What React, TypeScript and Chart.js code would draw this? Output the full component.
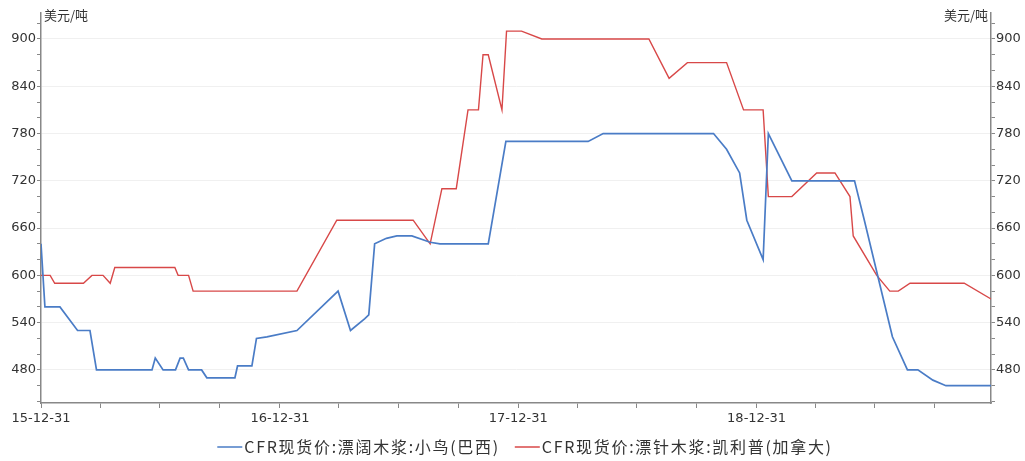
import React, { useEffect, useRef } from "react";
import { Chart, registerables } from "chart.js";

Chart.register(...registerables);

const BASE_DATE = "2015-12-31";
const END_DATE = "2019-12-25";

const hardwoodName = "CFR现货价:漂阔木浆:小鸟(巴西)";
const hardwoodDates = [
  "2015-12-31", "2016-01-06", "2016-01-29", "2016-02-25", "2016-03-15", "2016-03-25",
  "2016-06-18", "2016-06-23", "2016-07-05", "2016-07-24", "2016-07-31", "2016-08-05",
  "2016-08-13", "2016-09-02", "2016-09-10", "2016-10-23", "2016-10-27", "2016-11-18",
  "2016-11-25", "2016-12-11", "2017-01-26", "2017-03-30", "2017-04-18", "2017-05-10",
  "2017-05-16", "2017-05-25", "2017-06-12", "2017-06-28", "2017-07-21", "2017-08-18",
  "2017-09-02", "2017-11-15", "2017-12-12", "2018-04-17", "2018-05-10", "2018-10-26",
  "2018-11-15", "2018-12-05", "2018-12-16", "2019-01-10", "2019-01-18", "2019-02-23",
  "2019-05-30", "2019-06-14", "2019-07-27", "2019-08-19", "2019-09-04", "2019-09-27",
  "2019-10-17", "2019-12-25",
];
const hardwoodValues = [
  640, 560, 560, 530, 530, 480,
  480, 495, 480, 480, 495, 495,
  480, 480, 470, 470, 485, 485,
  520, 522, 530, 580, 530, 545,
  550, 640, 647, 650, 650, 642,
  640, 640, 770, 770, 780, 780,
  760, 730, 670, 620, 780, 720,
  720, 670, 522, 480, 480, 467,
  460, 460,
];

const softwoodName = "CFR现货价:漂针木浆:凯利普(加拿大)";
const softwoodDates = [
  "2015-12-31", "2016-01-14", "2016-01-21", "2016-03-05", "2016-03-18", "2016-04-04",
  "2016-04-15", "2016-04-22", "2016-07-23", "2016-07-28", "2016-08-13", "2016-08-20",
  "2017-01-26", "2017-03-28", "2017-07-23", "2017-08-18", "2017-09-05", "2017-09-27",
  "2017-10-15", "2017-10-31", "2017-11-07", "2017-11-15", "2017-12-06", "2017-12-13",
  "2018-01-05", "2018-02-05", "2018-07-19", "2018-08-19", "2018-09-16", "2018-11-15",
  "2018-12-11", "2019-01-10", "2019-01-18", "2019-02-23", "2019-04-02", "2019-04-30",
  "2019-05-23", "2019-05-28", "2019-07-03", "2019-07-23", "2019-08-05", "2019-08-23",
  "2019-11-14", "2019-12-25",
];
const softwoodValues = [
  600, 600, 590, 590, 600, 600,
  590, 610, 610, 600, 600, 580,
  580, 670, 670, 640, 710, 710,
  810, 810, 880, 880, 810, 910,
  910, 900, 900, 850, 870, 870,
  810, 810, 700, 700, 730, 730,
  700, 650, 600, 580, 580, 590,
  590, 570,
];

const xTickDates = [
  "2015-12-31", "2016-03-31", "2016-06-30", "2016-09-30", "2016-12-31",
  "2017-03-31", "2017-06-30", "2017-09-30", "2017-12-31",
  "2018-03-31", "2018-06-30", "2018-09-30", "2018-12-31",
  "2019-03-31", "2019-06-30", "2019-09-30",
];
const xLabelDates = ["2015-12-31", "2016-12-31", "2017-12-31", "2018-12-31"];

const yMinorTicks = [440, 460, 480, 500, 520, 540, 560, 580, 600, 620, 640, 660, 680, 700, 720, 740, 760, 780, 800, 820, 840, 860, 880, 900, 920];
const yLabelTicks = [480, 540, 600, 660, 720, 780, 840, 900];
const unitLabel = "美元/吨";

const BLUE = "#4a7cc6";
const RED = "#d84848";
const FONT = "'Noto Sans CJK SC', 'Noto Sans', sans-serif";
const NUM_FONT = "'DejaVu Sans', sans-serif";

const dayOf = (s: string) => Math.round((Date.parse(s) - Date.parse(BASE_DATE)) / 86400000);
const shortLabel = (s: string) => s.slice(2);

export default function App() {
  const ref = useRef<HTMLCanvasElement | null>(null);

  useEffect(() => {
    document.body.style.margin = "0";
    const canvas = ref.current;
    if (!canvas) return;

    const labelMap = new Map<number, string>();
    xLabelDates.forEach((d) => labelMap.set(dayOf(d), shortLabel(d)));

    const overlay = {
      id: "overlay",
      afterDraw(chart: any) {
        const { ctx, chartArea } = chart;
        ctx.save();
        ctx.fillStyle = "#333";
        ctx.font = `13px ${FONT}`;
        ctx.textBaseline = "middle";
        ctx.textAlign = "left";
        ctx.fillText(unitLabel, chartArea.left + 3, 15);
        ctx.textAlign = "right";
        ctx.fillText(unitLabel, chartArea.right - 3, 15);

        // legend
        const items = [
          { name: hardwoodName, color: BLUE },
          { name: softwoodName, color: RED },
        ];
        ctx.font = `16px ${FONT}`;
        (ctx as any).letterSpacing = "1.7px";
        const lineLen = 25;
        const gapLine = 2;
        const gapItem = 15;
        const widths = items.map((it) => lineLen + gapLine + ctx.measureText(it.name).width);
        const total = widths.reduce((a, b) => a + b, 0) + gapItem * (items.length - 1);
        let x = 525 - total / 2;
        const y = 447;
        items.forEach((it, i) => {
          ctx.strokeStyle = it.color;
          ctx.lineWidth = 1.5;
          ctx.beginPath();
          ctx.moveTo(x, y);
          ctx.lineTo(x + lineLen, y);
          ctx.stroke();
          ctx.fillStyle = "#333";
          ctx.textAlign = "left";
          ctx.fillText(it.name, x + lineLen + gapLine, y);
          x += widths[i] + gapItem;
        });
        ctx.restore();
      },
    };

    const yTicksBuild = (scale: any) => {
      scale.ticks = yMinorTicks.map((v) => ({ value: v }));
    };
    const yLabel = (v: any) => (yLabelTicks.includes(Number(v)) ? String(v) : "");

    const chart = new Chart(canvas, {
      type: "line",
      data: {
        datasets: [
          {
            label: hardwoodName,
            data: hardwoodDates.map((d, i) => ({ x: dayOf(d), y: hardwoodValues[i] })),
            borderColor: BLUE,
            backgroundColor: BLUE,
            borderWidth: 1.7,
            pointRadius: 0,
            tension: 0,
            yAxisID: "y",
          },
          {
            label: softwoodName,
            data: softwoodDates.map((d, i) => ({ x: dayOf(d), y: softwoodValues[i] })),
            borderColor: RED,
            backgroundColor: RED,
            borderWidth: 1.4,
            pointRadius: 0,
            tension: 0,
            yAxisID: "y",
          },
        ],
      },
      options: {
        animation: false,
        responsive: true,
        maintainAspectRatio: false,
        layout: { padding: { top: 13, left: 0, right: 0, bottom: 0 } },
        plugins: {
          legend: { display: false },
          tooltip: { enabled: false },
        },
        scales: {
          x: {
            type: "linear",
            min: 0,
            max: dayOf(END_DATE),
            afterBuildTicks: (scale: any) => {
              scale.ticks = xTickDates.map((d) => ({ value: dayOf(d) }));
            },
            afterFit: (scale: any) => {
              scale.height = 58;
            },
            ticks: {
              autoSkip: false,
              maxRotation: 0,
              padding: 3,
              color: "#333",
              font: { family: NUM_FONT, size: 13 },
              callback: (v: any) => labelMap.get(Number(v)) ?? "",
            },
            grid: {
              drawOnChartArea: false,
              drawTicks: true,
              tickLength: 5,
              tickColor: "#888",
            },
            border: { color: "#888", width: 1.5 },
          },
          y: {
            type: "linear",
            position: "left",
            min: 438,
            max: 933,
            afterBuildTicks: yTicksBuild,
            afterFit: (scale: any) => {
              scale.width = 41;
            },
            ticks: {
              autoSkip: false,
              padding: 1,
              color: "#333",
              font: { family: NUM_FONT, size: 13 },
              callback: yLabel,
            },
            grid: {
              drawOnChartArea: true,
              tickLength: 4,
              color: (c: any) => (yLabelTicks.includes(c.tick?.value) ? "#f0f0f0" : "rgba(0,0,0,0)"),
              tickColor: "#888",
            },
            border: { color: "#888", width: 1.5 },
          },
          y2: {
            type: "linear",
            position: "right",
            min: 438,
            max: 933,
            afterBuildTicks: yTicksBuild,
            afterFit: (scale: any) => {
              scale.width = 34;
            },
            ticks: {
              autoSkip: false,
              padding: 1,
              color: "#333",
              font: { family: NUM_FONT, size: 13 },
              callback: yLabel,
            },
            grid: {
              drawOnChartArea: false,
              tickLength: 4,
              tickColor: "#888",
            },
            border: { color: "#888", width: 1.5 },
          },
        },
      },
      plugins: [overlay],
    } as any);

    return () => chart.destroy();
  }, []);

  return (
    <div style={{ position: "relative", width: 1025, height: 461 }}>
      <canvas ref={ref} />
    </div>
  );
}
